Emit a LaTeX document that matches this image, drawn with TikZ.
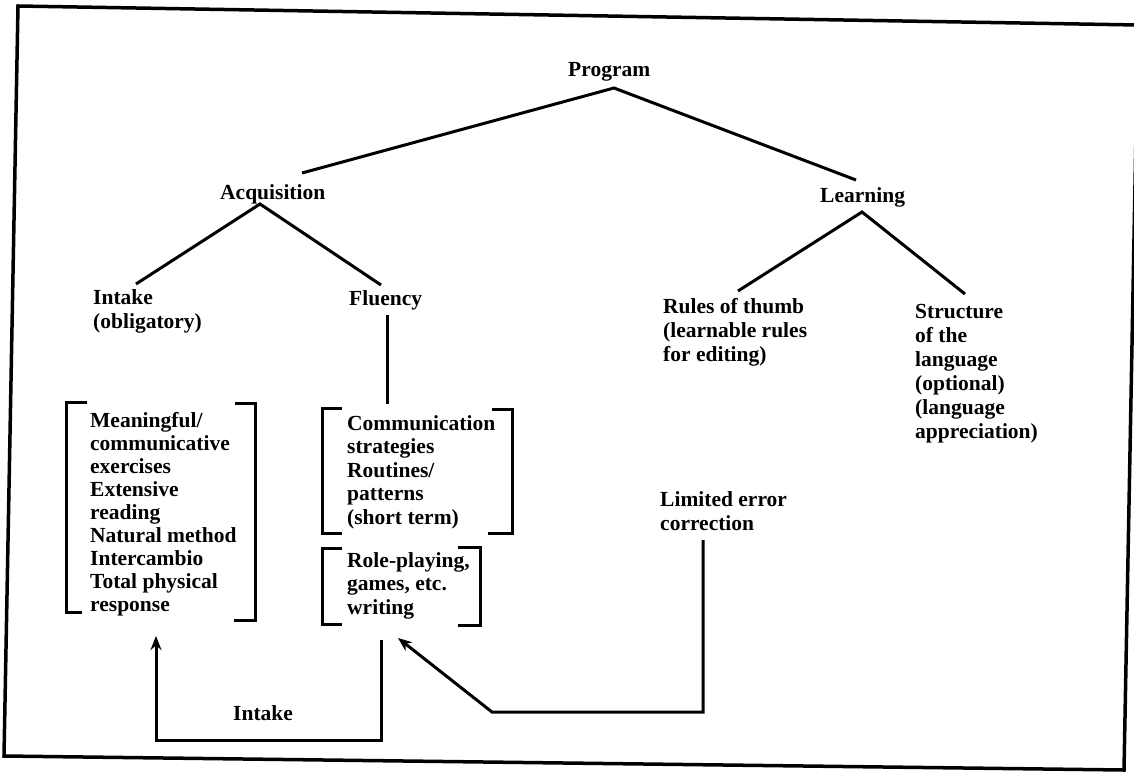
\documentclass[tikz,border=0pt]{standalone}
\usepackage{fontspec}
\setmainfont{Liberation Serif}
\usetikzlibrary{arrows.meta}
\newcommand{\mlines}[2][23.5pt]{\vtop{\baselineskip=#1\lineskiplimit=-20pt\halign{##\hfil\cr#2\crcr}}}
\begin{document}
\begin{tikzpicture}[x=1pt,y=-1pt,
  lbl/.style={anchor=base west,inner sep=0pt,font=\fontsize{21.5}{23.5}\selectfont\bfseries},
  conn/.style={line width=3pt},
  brk/.style={line width=3pt,line join=miter},
  arr/.style={line width=3pt,line join=miter,-{Stealth[length=14pt,width=11pt]}},
  frame/.style={line width=3.5pt,line join=miter}]
\useasboundingbox (0,0) rectangle (1134,773);
\clip (0,0) rectangle (1134,773);
% frame
\draw[frame] (18,6) -- (1138,25) -- (1124,770) -- (4,756) -- cycle;

% labels
\node[lbl] (prog) at (568,77) {Program};
\node[lbl] (acq) at (220,199) {Acquisition};
\node[lbl] (learn) at (820,202) {Learning};
\node[lbl] (intk) at (93,304) {\mlines[24pt]{Intake\cr (obligatory)}};
\node[lbl] (flu) at (349,305) {Fluency};
\node[lbl] (rules) at (663,313) {\mlines[24pt]{Rules of thumb\cr (learnable rules\cr for editing)}};
\node[lbl] (struct) at (915,318) {\mlines[24pt]{Structure\cr of the\cr language\cr (optional)\cr (language\cr appreciation)}};
\node[lbl] (meth) at (90,427) {\mlines[23.1pt]{Meaningful/\cr communicative\cr exercises\cr Extensive\cr reading\cr Natural method\cr Intercambio\cr Total physical\cr response}};
\node[lbl] (comm) at (347,430) {\mlines[23.5pt]{Communication\cr strategies\cr Routines/\cr patterns\cr (short term)}};
\node[lbl] (role) at (347,567) {\mlines[23.5pt]{Role-playing,\cr games, etc.\cr writing}};
\node[lbl] (lec) at (660,506) {\mlines[24pt]{Limited error\cr correction}};
\node[lbl] (intake2) at (233,720) {Intake};

% tree connector points
\coordinate (progA) at (614,88);
\coordinate (acqE) at (302,173);
\coordinate (learnE) at (856,180);
\coordinate (acqA) at (260,204);
\coordinate (intkE) at (136,284);
\coordinate (fluE) at (381,285);
\coordinate (learnA) at (862,212);
\coordinate (rulesE) at (738,291);
\coordinate (structE) at (965,294);
\coordinate (fluB) at (387,315);
\coordinate (commT) at (387,404);

\draw[conn] (acqE) -- (progA) -- (learnE);
\draw[conn] (intkE) -- (acqA) -- (fluE);
\draw[conn] (rulesE) -- (learnA) -- (structE);
\draw[conn] (fluB) -- (commT);

% brackets
\draw[brk] (87,402) -- (66,402) -- (66,612) -- (82,612);
\draw[brk] (235,403) -- (255,403) -- (255,620) -- (234,620);
\draw[brk] (342,408) -- (322,408) -- (322,533) -- (342,533);
\draw[brk] (492,409) -- (512,409) -- (512,533) -- (488,533);
\draw[brk] (342,548) -- (322,548) -- (322,624) -- (342,624);
\draw[brk] (458,547) -- (480,547) -- (480,625) -- (458,625);

% intake loop
\coordinate (loopS) at (381,640);
\coordinate (loopE) at (156,636);
\draw[arr] (loopS) -- (381,740) -- (156,740) -- (loopE);

% error correction feedback
\coordinate (lecS) at (703,540);
\coordinate (lecE) at (398,638);
\draw[arr] (lecS) -- (703,712) -- (492,712) -- (lecE);
\end{tikzpicture}
\end{document}
